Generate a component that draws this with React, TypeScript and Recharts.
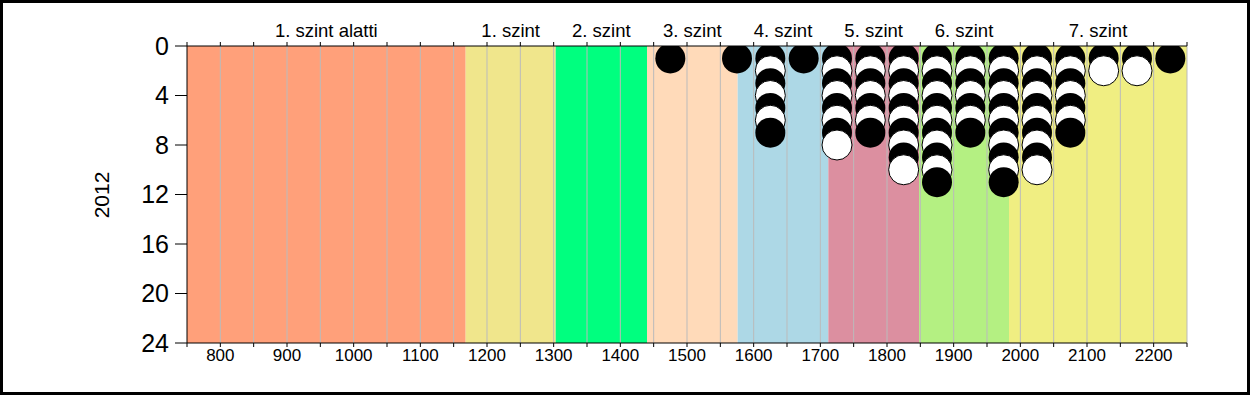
import {
  ComposedChart, Scatter, XAxis, YAxis, ReferenceArea, ReferenceLine,
} from 'recharts';

document.body.style.margin = '0';

// score bins (centre of each 50-point bin) and how many students fall in them
const binCenters = [1475, 1575, 1625, 1675, 1725, 1775, 1825, 1875, 1925, 1975, 2025, 2075, 2125, 2175, 2225];
const binCounts = [1, 1, 7, 1, 8, 7, 10, 11, 7, 11, 10, 7, 2, 2, 1];

// proficiency levels
const levelNames = ['1. szint alatti', '1. szint', '2. szint', '3. szint', '4. szint', '5. szint', '6. szint', '7. szint'];
const levelBounds = [750, 1168, 1303, 1440, 1576, 1712, 1848, 1983, 2250];
const levelColors = ['#FFA07A', '#F0E68C', '#00FF7F', '#FFDAB9', '#ADD8E6', '#DC8FA0', '#B4F082', '#F0EE82'];

const xTicks = [750, 800, 850, 900, 950, 1000, 1050, 1100, 1150, 1200, 1250, 1300, 1350, 1400, 1450, 1500,
  1550, 1600, 1650, 1700, 1750, 1800, 1850, 1900, 1950, 2000, 2050, 2100, 2150, 2200, 2250];
const yTicks = [0, 4, 8, 12, 16, 20, 24];
const yearLabel = '2012';

const FONT = 'Arial, "Liberation Sans", sans-serif';

type Pt = { x: number; y: number; n: number };

const points: Pt[] = [];
binCenters.forEach((x, i) => {
  for (let k = 1; k <= binCounts[i]; k++) points.push({ x, y: k, n: k });
});

function Dot(props: any) {
  const { cx, cy, payload } = props;
  const black = payload.n % 2 === 1;
  return (
    <circle cx={cx} cy={cy} r={15} fill={black ? '#000000' : '#FFFFFF'} stroke="#000000" strokeWidth={black ? 0 : 1} />
  );
}

export default function App() {
  return (
    <div style={{ width: 1250, height: 395, boxSizing: 'border-box', border: '3px solid #000', position: 'relative', background: '#fff' }}>
      <div style={{ position: 'absolute', left: -3, top: -3 }}>
        <ComposedChart width={1250} height={395} data={points} margin={{ top: 0, right: 63, bottom: 0, left: 0 }}>
          <XAxis
            xAxisId="top"
            orientation="top"
            type="number"
            dataKey="x"
            domain={[750, 2250]}
            ticks={xTicks}
            tickFormatter={() => ''}
            height={46}
            tickSize={4}
            axisLine={{ stroke: '#000' }}
            tickLine={{ stroke: '#000' }}
            allowDataOverflow
          />
          <XAxis
            type="number"
            dataKey="x"
            domain={[750, 2250]}
            ticks={xTicks}
            interval={0}
            tickFormatter={(v: number) => (v % 100 === 0 ? String(v) : '')}
            height={52}
            tickSize={4}
            tickMargin={2}
            axisLine={{ stroke: '#000' }}
            tickLine={{ stroke: '#000' }}
            tick={{ fill: '#000', fontSize: 17, fontFamily: FONT }}
            allowDataOverflow
          />
          <YAxis
            type="number"
            dataKey="y"
            reversed
            domain={[0, 24]}
            ticks={yTicks}
            interval={0}
            width={187}
            tickSize={12}
            tickMargin={6}
            axisLine={{ stroke: '#000' }}
            tickLine={{ stroke: '#000' }}
            tick={{ fill: '#000', fontSize: 25, fontFamily: FONT }}
            allowDataOverflow
            label={{
              value: yearLabel,
              content: () => (
                <text x={101} y={195} transform="rotate(-90 101 195)" textAnchor="middle" dominantBaseline="central"
                  fontSize={21} fontFamily={FONT} fill="#000">{yearLabel}</text>
              ),
            }}
          />
          {levelNames.map((name, i) => (
            <ReferenceArea
              key={name}
              x1={levelBounds[i]}
              x2={levelBounds[i + 1]}
              y1={0}
              y2={24}
              fill={levelColors[i]}
              fillOpacity={1}
              stroke="none"
              label={{ value: name, position: 'top', offset: 9, fill: '#000', fontSize: 18.5, fontFamily: FONT }}
            />
          ))}
          {xTicks.slice(1).map((x) => (
            <ReferenceLine key={x} x={x} stroke="#BBBBBB" strokeWidth={1} />
          ))}
          <Scatter data={points} dataKey="y" shape={Dot} isAnimationActive={false} />
        </ComposedChart>
      </div>
    </div>
  );
}
